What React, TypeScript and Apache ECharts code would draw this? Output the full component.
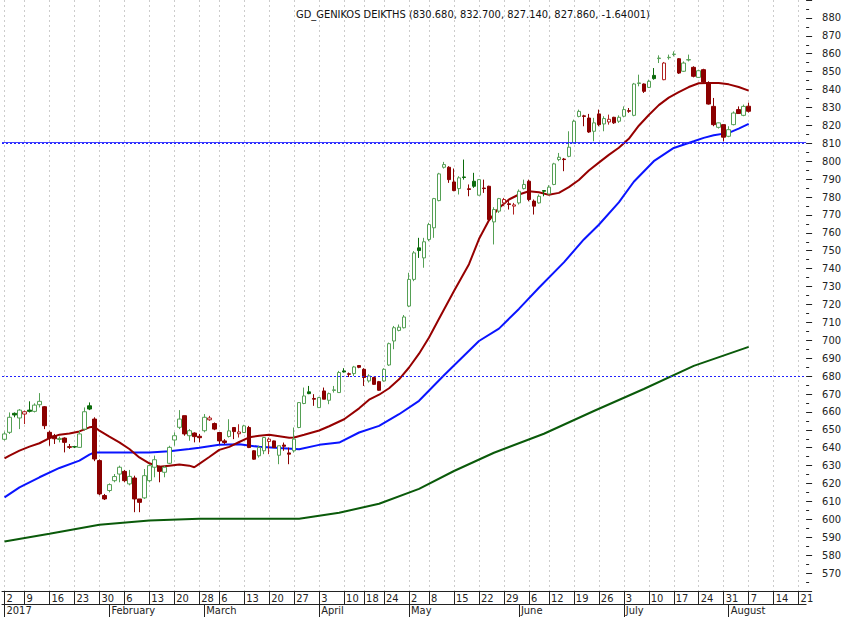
import React, { useEffect, useRef } from "react";
import * as echarts from "echarts";

const dates: string[] = [
  "2017-01-02","2017-01-03","2017-01-04","2017-01-05","2017-01-09","2017-01-10","2017-01-11","2017-01-12","2017-01-13",
  "2017-01-16","2017-01-17","2017-01-18","2017-01-19","2017-01-20","2017-01-23","2017-01-24","2017-01-25","2017-01-26","2017-01-27",
  "2017-01-30","2017-01-31","2017-02-01","2017-02-02","2017-02-03","2017-02-06","2017-02-07","2017-02-08","2017-02-09","2017-02-10",
  "2017-02-13","2017-02-14","2017-02-15","2017-02-16","2017-02-17","2017-02-20","2017-02-21","2017-02-22","2017-02-23","2017-02-24",
  "2017-02-28","2017-03-01","2017-03-02","2017-03-03","2017-03-06","2017-03-07","2017-03-08","2017-03-09","2017-03-10",
  "2017-03-13","2017-03-14","2017-03-15","2017-03-16","2017-03-17","2017-03-20","2017-03-21","2017-03-22","2017-03-23","2017-03-24",
  "2017-03-27","2017-03-28","2017-03-29","2017-03-30","2017-03-31","2017-04-03","2017-04-04","2017-04-05","2017-04-06","2017-04-07",
  "2017-04-10","2017-04-11","2017-04-12","2017-04-13","2017-04-18","2017-04-19","2017-04-20","2017-04-21",
  "2017-04-24","2017-04-25","2017-04-26","2017-04-27","2017-04-28","2017-05-02","2017-05-03","2017-05-04","2017-05-05",
  "2017-05-08","2017-05-09","2017-05-10","2017-05-11","2017-05-12","2017-05-15","2017-05-16","2017-05-17","2017-05-18","2017-05-19",
  "2017-05-22","2017-05-23","2017-05-24","2017-05-25","2017-05-26","2017-05-29","2017-05-30","2017-05-31","2017-06-01","2017-06-02",
  "2017-06-06","2017-06-07","2017-06-08","2017-06-09","2017-06-12","2017-06-13","2017-06-14","2017-06-15","2017-06-16",
  "2017-06-19","2017-06-20","2017-06-21","2017-06-22","2017-06-23","2017-06-26","2017-06-27","2017-06-28","2017-06-29","2017-06-30",
  "2017-07-03","2017-07-04","2017-07-05","2017-07-06","2017-07-07","2017-07-10","2017-07-11","2017-07-12","2017-07-13","2017-07-14",
  "2017-07-17","2017-07-18","2017-07-19","2017-07-20","2017-07-21","2017-07-24","2017-07-25","2017-07-26","2017-07-27","2017-07-28",
  "2017-07-31","2017-08-01","2017-08-02","2017-08-03","2017-08-04","2017-08-07",
  "2017-08-08","2017-08-09","2017-08-10","2017-08-11","2017-08-14","2017-08-15","2017-08-16","2017-08-17","2017-08-18","2017-08-21","2017-08-22"
];

const opens: number[] = [
  644.7,648.6,659.2,656.6,658.8,661.0,660.3,664.0,662.9,648.6,646.7,644.6,645.4,640.6,640.6,640.2,650.4,663.4,656.0,632.8,
  613.3,616.1,621.6,625.3,626.8,619.8,623.1,611.4,612.0,621.6,629.1,629.4,626.3,631.3,644.3,651.4,657.9,646.7,648.2,646.4,
  649.5,655.6,653.5,648.5,643.8,646.3,651.3,647.8,648.5,651.3,638.3,635.5,638.3,643.5,643.8,635.8,641.5,637.1,638.3,651.3,
  664.7,671.2,667.5,662.4,671.7,666.5,672.0,670.8,682.9,681.3,681.4,685.9,683.8,677.3,679.2,676.9,677.3,686.2,699.6,705.5,
  707.0,719.1,734.0,751.6,746.0,756.3,762.8,778.0,796.6,796.6,788.4,784.7,791.2,784.6,788.8,781.0,785.0,786.0,766.1,772.1,
  776.7,776.2,774.9,776.7,784.7,788.8,777.7,776.7,783.6,781.7,787.0,800.9,801.2,802.7,810.2,825.0,825.3,824.1,816.7,826.4,
  820.8,821.9,824.5,822.3,825.1,828.2,825.6,843.4,843.1,841.2,847.9,857.3,845.5,857.8,859.6,857.2,850.2,856.5,852.4,846.8,
  851.1,843.7,830.6,818.9,820.4,813.9,820.4,828.8,825.6,830.68
];
const highs: number[] = [
  649.0,659.7,659.7,661.6,660.7,665.9,664.8,670.5,663.3,649.5,647.7,646.2,645.8,642.1,641.0,649.5,662.5,665.3,657.0,633.5,
  614.2,620.1,625.3,630.0,627.6,627.6,624.4,611.4,628.1,630.9,635.6,630.0,630.0,641.1,648.6,661.0,657.9,650.4,648.6,647.7,
  658.8,657.8,654.1,648.5,644.8,655.9,651.3,653.1,652.8,652.2,638.6,641.1,645.9,645.7,644.0,641.1,642.9,640.1,651.3,665.5,
  673.6,674.5,669.9,668.4,673.6,670.8,674.5,682.9,684.4,682.0,685.7,686.2,684.4,681.0,679.6,677.3,684.4,698.7,708.0,708.8,
  714.1,737.7,749.8,757.2,757.2,765.6,779.5,793.5,799.6,797.2,795.9,791.6,800.9,787.0,793.5,789.9,789.7,786.3,774.3,779.5,
  779.5,777.7,776.7,784.2,789.7,789.7,778.6,781.4,783.9,786.6,799.1,804.6,801.8,816.7,823.2,828.8,825.9,826.4,824.2,828.8,
  825.1,826.0,824.8,825.6,830.6,829.7,843.7,848.3,843.4,845.5,852.0,859.1,855.4,859.5,861.3,857.6,855.7,859.5,853.0,851.1,
  851.6,844.6,835.3,821.6,820.6,819.5,827.8,830.6,831.6,832.70
];
const lows: number[] = [
  644.0,647.7,657.0,650.4,653.2,659.7,659.7,662.5,650.4,641.1,642.1,643.0,637.4,639.3,639.8,640.0,649.5,661.0,632.5,613.5,
  610.8,615.1,620.7,620.7,620.7,619.0,604.0,604.0,611.4,620.7,623.5,620.7,623.5,630.9,641.1,650.4,646.7,643.9,643.0,643.0,
  648.6,655.0,649.8,642.0,642.0,645.7,644.8,645.7,648.5,639.8,633.3,634.5,636.4,636.4,639.9,630.8,638.3,630.8,637.3,650.9,
  664.3,669.9,663.4,662.4,667.1,664.3,670.8,670.8,682.0,679.5,680.1,684.4,674.5,676.4,675.1,671.8,676.9,685.7,695.0,705.0,
  706.6,718.5,733.0,746.0,740.5,755.3,757.2,777.6,795.9,787.9,783.2,781.4,789.7,780.4,785.1,781.0,782.3,767.0,753.5,771.1,
  774.9,773.0,770.2,775.8,784.2,777.6,770.2,776.3,780.4,781.4,786.6,800.0,794.4,802.2,810.0,824.5,819.5,815.8,811.1,819.5,
  816.7,820.4,820.8,821.4,824.5,827.0,825.1,841.8,838.1,840.9,845.5,854.8,845.2,856.7,858.5,848.7,849.8,855.7,846.8,846.5,
  843.7,831.6,819.5,818.2,811.1,813.4,820.0,826.4,825.1,827.14
];
const closes: number[] = [
  647.7,657.0,658.3,661.0,660.1,660.3,663.8,665.9,652.3,645.4,645.0,645.2,643.0,640.2,640.4,647.7,660.1,661.6,633.7,614.2,
  611.4,619.4,623.9,629.1,621.6,624.0,611.4,609.5,624.4,630.0,633.3,626.8,629.1,640.2,646.7,656.0,647.7,649.5,646.2,645.6,
  657.0,656.6,650.4,643.8,642.9,649.4,649.0,648.8,652.2,640.1,633.6,640.1,645.7,644.8,640.1,641.1,640.8,636.4,644.8,665.2,
  668.9,670.2,667.1,668.0,667.1,670.2,672.3,682.0,682.3,681.0,685.1,684.9,679.2,680.1,675.4,672.1,683.8,698.1,707.0,707.3,
  713.0,734.0,748.8,750.1,755.0,764.6,779.1,792.9,798.1,789.7,783.6,790.7,790.9,784.2,786.0,789.7,784.7,767.4,773.0,779.1,
  778.6,775.8,775.6,783.2,787.0,778.6,774.9,780.4,783.2,785.5,798.5,802.2,800.9,807.8,822.3,827.8,825.0,816.3,821.4,820.4,
  823.8,823.4,821.4,824.5,828.8,827.9,843.1,843.7,839.0,844.6,846.1,857.6,854.8,858.0,859.8,849.2,854.8,856.7,847.4,850.5,
  844.2,831.9,820.4,821.4,813.4,817.6,826.9,826.6,830.6,827.86
];

// moving averages: [category index, value]
const maShort: [number, number][] = [
  [0,634.0],[1,635.6],[3,638.4],[5,640.6],[7,642.5],[9,645.4],[11,647.3],[13,648.0],[15,649.1],[17,651.4],[18,651.7],[19,649.5],
  [21,646.2],[23,643.0],[25,639.3],[27,634.6],[29,631.3],[31,629.4],[33,630.0],[35,630.6],[37,630.0],[38,629.1],[39,631.0],[41,634.8],
  [43,638.8],[45,640.5],[47,643.2],[49,645.8],[51,646.7],[53,647.2],[55,646.4],[57,645.6],[58,645.7],[60,647.2],[63,649.6],[65,652.0],
  [68,655.9],[71,662.0],[73,666.8],[75,669.6],[77,673.2],[79,678.2],[81,684.8],[83,692.5],[85,701.5],[87,712.0],[90,727.5],[93,742.5],
  [95,756.5],[97,767.0],[99,773.9],[101,778.6],[103,781.4],[105,783.2],[107,782.6],[109,781.2],[111,782.3],[113,785.5],[115,789.5],
  [117,794.8],[119,799.2],[121,803.5],[123,807.5],[125,812.5],[127,819.8],[129,825.8],[131,831.3],[133,835.5],[135,838.6],[137,841.4],
  [139,843.5],[141,843.7],[143,843.7],[145,842.9],[147,841.4],[149,839.4]
];
const maMid: [number, number][] = [
  [0,612.3],[3,617.9],[7,623.5],[11,628.7],[15,632.8],[17,636.1],[18,637.4],[21,637.4],[29,637.4],[33,638.0],[37,639.3],[39,640.0],
  [41,640.8],[43,641.6],[47,642.0],[51,640.5],[55,639.8],[59,639.2],[63,641.6],[67,642.9],[71,648.5],[75,652.2],[79,658.7],[83,666.2],
  [88,680.5],[95,699.6],[99,706.5],[103,717.5],[107,729.3],[112,743.5],[116,756.3],[119,764.5],[123,777.0],[126,788.5],[130,800.0],
  [134,807.4],[138,811.1],[140,813.0],[142,814.5],[145,815.8],[147,818.2],[149,820.8]
];
const maLong: [number, number][] = [
  [0,587.6],[9,592.0],[19,597.0],[29,599.3],[39,600.4],[49,600.4],[59,600.4],[67,603.7],[75,608.7],[83,617.0],[90,627.0],
  [98,637.2],[108,647.8],[118,660.5],[128,672.8],[138,685.7],[149,696.3]
];

const levelLines: number[] = [810, 680];
const titleText = "GD_GENIKOS DEIKTHS (830.680, 832.700, 827.140, 827.860, -1.64001)";
const monthNames: string[] = ["January","February","March","April","May","June","July","August","September","October","November","December"];
const yMin = 560;
const yMax = 890;

const FONT = "'Liberation Sans Narrow', 'Arial Narrow', 'DejaVu Sans Condensed', sans-serif";
const UP_BORDER = "#55a055";
const DOWN_FILL = "#8b0000";
const GREEN_FILL = "#0b6b0b";
const RED_HOLLOW = "#b02020";
const LEVEL_BLUE = "#2020ff";

function parse(s: string) {
  return new Date(s + "T00:00:00Z");
}

export default function App() {
  const ref = useRef<HTMLDivElement>(null);
  useEffect(() => {
    if (!ref.current) return;
    const chart = echarts.init(ref.current, undefined, { renderer: "svg" });

    const ds = dates.map(parse);
    const weekStart = ds.map((d, i) => {
      if (i === 0) return true;
      const p = ds[i - 1];
      const dow = (d.getUTCDay() + 6) % 7;
      const pdow = (p.getUTCDay() + 6) % 7;
      return dow <= pdow || (d.getTime() - p.getTime()) / 86400000 >= 7;
    });
    const monthStart = ds.map((d, i) => i === 0 || d.getUTCMonth() !== ds[i - 1].getUTCMonth());

    const candles = opens.map((o, i) => {
      const c = closes[i];
      const prev = i > 0 ? closes[i - 1] : o;
      const rising = c >= prev;
      const hollow = c > o;
      const fill = hollow ? "#ffffff" : rising ? GREEN_FILL : DOWN_FILL;
      const border = hollow ? (rising ? UP_BORDER : RED_HOLLOW) : fill;
      return {
        value: [o, c, lows[i], highs[i]],
        itemStyle: { color: fill, color0: fill, borderColor: border, borderColor0: border, borderWidth: 1 },
      };
    });

    const levelData: any[] = [];
    levelLines.forEach((v, k) => {
      levelData.push({ yAxis: v, lineStyle: { color: LEVEL_BLUE, type: [2, 2], width: 1 } });
      if (k === 0) {
        levelData.push({ yAxis: v + 0.6, lineStyle: { color: LEVEL_BLUE, type: "solid", width: 1, opacity: 0.85 } });
      }
    });

    chart.setOption({
      animation: false,
      backgroundColor: "#ffffff",
      title: {
        text: titleText,
        left: 291,
        top: 4,
        textStyle: { fontFamily: FONT, fontSize: 11, fontWeight: "normal", color: "#111" },
      },
      grid: { left: 2, right: 32, top: 0, bottom: 29, containLabel: false },
      xAxis: [
        {
          type: "category",
          data: dates,
          boundaryGap: true,
          position: "bottom",
          axisLine: { show: true, lineStyle: { color: "#222", width: 1 } },
          axisTick: {
            show: true,
            alignWithLabel: true,
            length: 13,
            interval: (i: number) => weekStart[i],
            lineStyle: { color: "#222" },
          },
          axisLabel: {
            interval: (i: number) => weekStart[i],
            formatter: (_v: string, i: number) => String(ds[i].getUTCDate()),
            align: "left",
            margin: 2,
            padding: [0, 0, 0, 2],
            fontFamily: FONT,
            fontSize: 11,
            color: "#222",
          },
          splitLine: {
            show: true,
            alignWithLabel: true,
            interval: (i: number) => weekStart[i],
            lineStyle: { color: "#cccccc", type: [2, 3], width: 1 },
          },
        },
        {
          type: "category",
          data: dates,
          boundaryGap: true,
          position: "bottom",
          offset: 13,
          axisLine: { show: true, lineStyle: { color: "#222", width: 1 } },
          axisTick: {
            show: true,
            alignWithLabel: true,
            length: 13,
            interval: (i: number) => monthStart[i],
            lineStyle: { color: "#222" },
          },
          axisLabel: {
            interval: (i: number) => monthStart[i],
            formatter: (_v: string, i: number) =>
              i === 0 ? String(ds[i].getUTCFullYear()) : monthNames[ds[i].getUTCMonth()],
            align: "left",
            margin: 1,
            padding: [0, 0, 0, 2],
            fontFamily: FONT,
            fontSize: 11,
            color: "#222",
          },
          splitLine: { show: false },
        },
      ],
      yAxis: {
        type: "value",
        position: "right",
        min: yMin,
        max: yMax,
        interval: 10,
        scale: true,
        axisLine: { show: false },
        axisTick: { show: true, length: 6, lineStyle: { color: "#222" } },
        minorTick: { show: true, splitNumber: 2, length: 3, lineStyle: { color: "#222" } },
        axisLabel: {
          margin: 16,
          fontFamily: FONT,
          fontSize: 11,
          color: "#222",
          formatter: (v: number) => (v > yMin && v < yMax ? String(v) : ""),
        },
        splitLine: { show: false },
      },
      series: [
        {
          type: "line",
          data: maLong,
          symbol: "none",
          connectNulls: true,
          lineStyle: { color: "#0a5a0a", width: 2 },
          z: 2,
        },
        {
          type: "line",
          data: maMid,
          symbol: "none",
          connectNulls: true,
          lineStyle: { color: "#0a14ff", width: 2 },
          z: 2,
        },
        {
          type: "line",
          data: maShort,
          symbol: "none",
          connectNulls: true,
          lineStyle: { color: "#960000", width: 2 },
          z: 2,
        },
        {
          type: "candlestick",
          data: candles,
          barWidth: 4,
          z: 3,
          markLine: {
            silent: true,
            symbol: "none",
            label: { show: false },
            data: levelData,
          },
        },
      ],
    });
    return () => chart.dispose();
  }, []);
  return <div ref={ref} style={{ position: "absolute", left: 0, top: 0, width: 844, height: 620 }} />;
}
